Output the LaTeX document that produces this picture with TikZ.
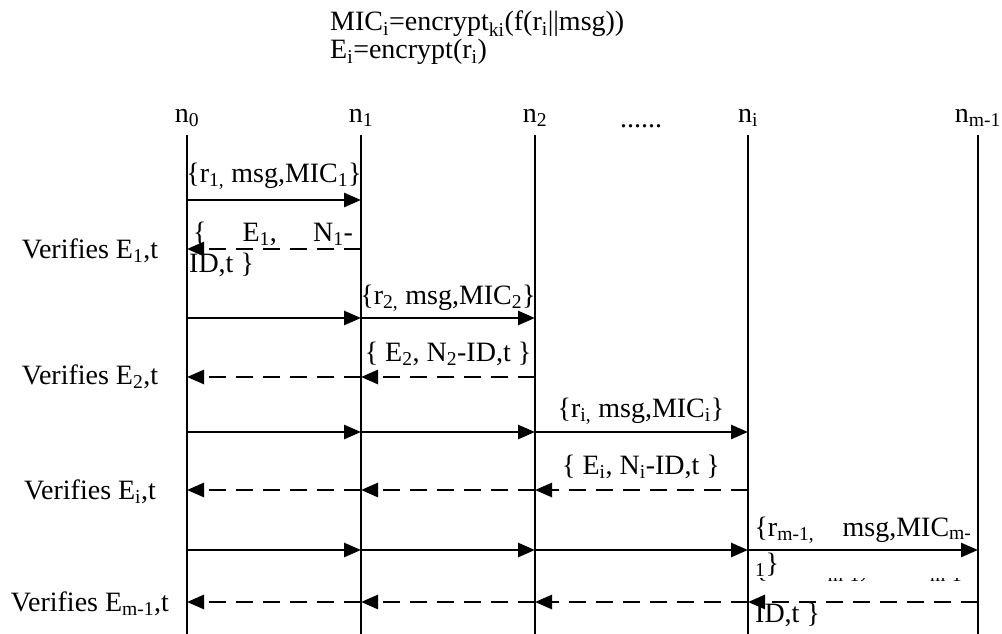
\documentclass[tikz,border=0pt]{standalone}
\usepackage{fontspec}
\setmainfont{Liberation Serif}
\usetikzlibrary{arrows.meta}
\newcommand{\ix}[1]{\textsubscript{#1}}

\begin{document}
\begin{tikzpicture}[x=1pt, y=-1pt, >={Triangle[length=17pt,width=14pt]},
    lbl/.style={font=\fontsize{28}{31}\selectfont, inner sep=0pt},
    msg/.style={->, line width=2.6pt},
    ack/.style={msg, dash pattern=on 17pt off 10pt}]
  \useasboundingbox (0,0) rectangle (1002,634);

  % --- Formulas at the top ---
  \node[lbl, anchor=base west] (mic) at (330,31) {MIC\ix{i}=encrypt\ix{ki}(f(r\ix{i}||msg))};
  \node[lbl, anchor=base west] (enc) at (330,59) {E\ix{i}=encrypt(r\ix{i})};

  % --- Lifelines n0 ... n(m-1) ---
  \foreach \nd/\x/\txt in {n0/187/0, n1/361/1, n2/535/2, ni/748/i, nm/978/m-1} {
    \coordinate (\nd) at (\x,135);
    \coordinate (\nd-end) at (\x,634);
    \node[lbl, anchor=base] (\nd-lbl) at (\x,122) {n\ix{\txt}};
    \draw[line width=2.6pt] (\nd) -- (\nd-end);
  }
  \node[lbl, anchor=base] (dots) at (641,127) {......};

  % --- Heights of the message rows ---
  \foreach \r/\y in {1/200, 2/249, 3/318, 4/377, 5/432, 6/490, 7/550, 8/602}
    \coordinate (r\r) at (0,\y);

  % --- Round 1: n0 <-> n1 ---
  \draw[msg] (n0 |- r1) -- (n1 |- r1);
  \draw[ack] (n1 |- r2) -- (n0 |- r2);
  \node[lbl, anchor=base] (req1) at (274,182) {\{r\ix{1,} msg,MIC\ix{1}\}};
  \node[lbl, anchor=base] (rep1a) at (273,241) {\hbox to 160pt{\{\hfill E\ix{1},\hfill N\ix{1}-}};
  \node[lbl, anchor=base west] (rep1b) at (189,272) {ID,t \}};
  \node[lbl, anchor=base] (ver1) at (90,258) {Verifies E\ix{1},t};

  % --- Round 2: n0 <-> n2 ---
  \foreach \a/\b in {n0/n1, n1/n2} \draw[msg] (\a |- r3) -- (\b |- r3);
  \foreach \a/\b in {n2/n1, n1/n0} \draw[ack] (\a |- r4) -- (\b |- r4);
  \node[lbl, anchor=base] (req2) at (448,304) {\{r\ix{2,} msg,MIC\ix{2}\}};
  \node[lbl, anchor=base] (rep2) at (448,361) {\{ E\ix{2}, N\ix{2}-ID,t \}};
  \node[lbl, anchor=base] (ver2) at (90,384) {Verifies E\ix{2},t};

  % --- Round i: n0 <-> ni ---
  \foreach \a/\b in {n0/n1, n1/n2, n2/ni} \draw[msg] (\a |- r5) -- (\b |- r5);
  \foreach \a/\b in {ni/n2, n2/n1, n1/n0} \draw[ack] (\a |- r6) -- (\b |- r6);
  \node[lbl, anchor=base] (reqi) at (641,417) {\{r\ix{i,} msg,MIC\ix{i}\}};
  \node[lbl, anchor=base] (repi) at (641,474) {\{ E\ix{i}, N\ix{i}-ID,t \}};
  \node[lbl, anchor=base] (veri) at (90,499) {Verifies E\ix{i},t};

  % --- Round m-1: n0 <-> n(m-1) ---
  \foreach \a/\b in {n0/n1, n1/n2, n2/ni, ni/nm} \draw[msg] (\a |- r7) -- (\b |- r7);
  \foreach \a/\b in {nm/ni, ni/n2, n2/n1, n1/n0} \draw[ack] (\a |- r8) -- (\b |- r8);
  \node[lbl, anchor=base] (reqma) at (863,536) {\hbox to 217pt{\{r\ix{m-1,}\hfill msg,MIC\ix{m-}}};
  \node[lbl, anchor=base west] (reqmb) at (755,572) {\ix{1}\}};
  \begin{scope}
    \clip (745,578) rectangle (985,598);
    \node[lbl, anchor=base] (repma) at (863,577) {\hbox to 217pt{\{\hfill E\ix{m-1},\hfill N\ix{m-1}-}};
  \end{scope}
  \node[lbl, anchor=base west] (repmb) at (755,622) {ID,t \}};
  \node[lbl, anchor=base] (verm) at (90,611) {Verifies E\ix{m-1},t};
\end{tikzpicture}
\end{document}
